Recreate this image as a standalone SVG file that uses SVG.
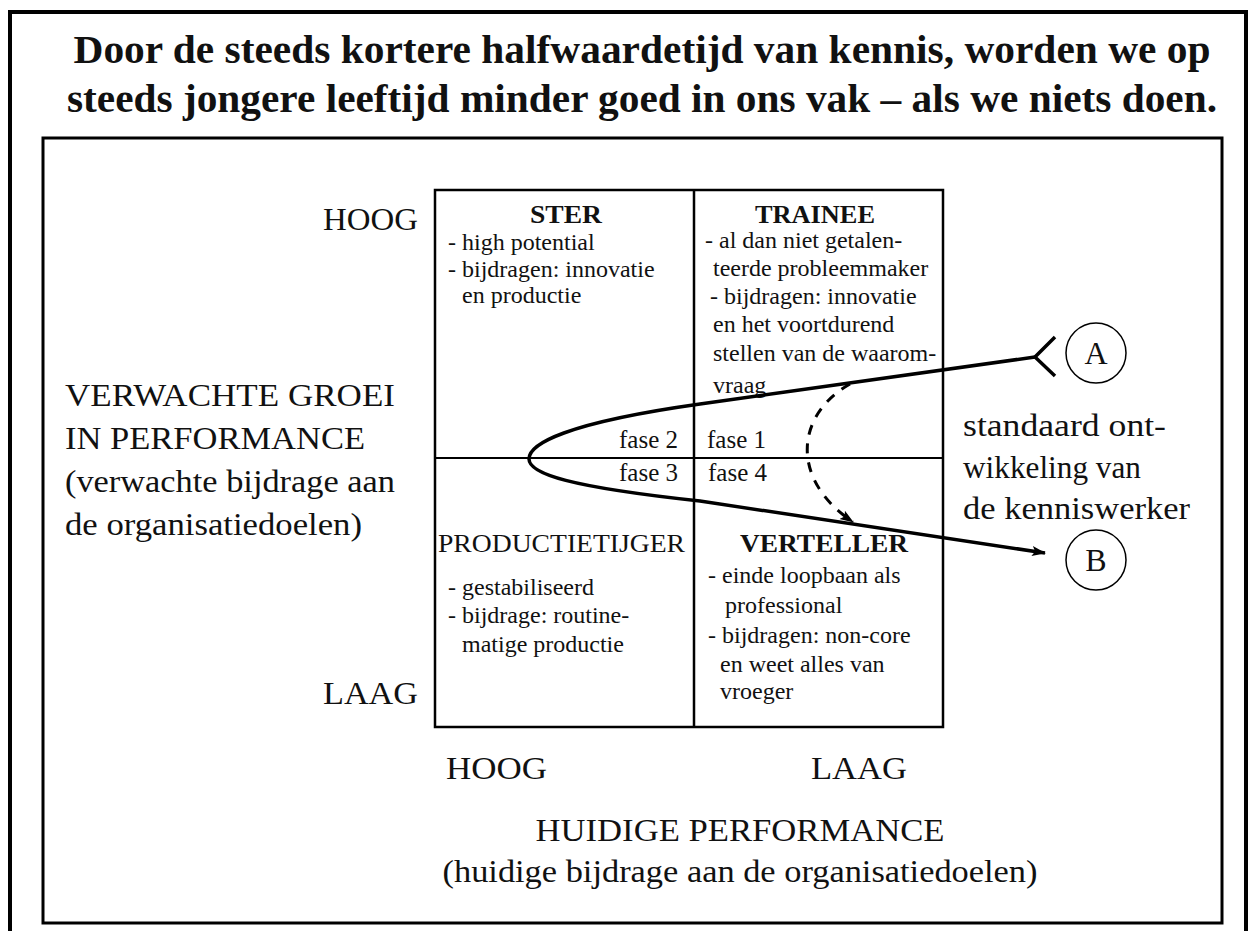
<svg xmlns="http://www.w3.org/2000/svg" width="1249" height="931" viewBox="0 0 1249 931" font-family="Liberation Serif, serif">
<defs>
<style>
.t{font-family:"Liberation Serif","Times New Roman",serif;fill:#111}
.title{font-size:41px;font-weight:bold}
.lab{font-size:32px}
.hd{font-size:26px;font-weight:bold}
.hr{font-size:26px}
.bd{font-size:24px}
.fs{font-size:25px}
.ln{fill:none;stroke:#000}
</style>
<marker id="ah" viewBox="0 0 14 12" refX="13" refY="6" markerWidth="14" markerHeight="12" markerUnits="userSpaceOnUse" orient="auto">
<path d="M0,1 L14,6 L0,11 L3,6 Z" fill="#000"/>
</marker>
</defs>
<rect x="0" y="0" width="1249" height="931" fill="#fff"/>
<g id="frame">
<rect x="10" y="12" width="1236" height="940" class="ln" stroke-width="4"/>
<rect x="43" y="138" width="1179" height="785" class="ln" stroke="#222" stroke-width="3"/>
</g>
<g id="title">
<text class="t title" x="642" y="63" text-anchor="middle" textLength="1137" lengthAdjust="spacingAndGlyphs">Door de steeds kortere halfwaardetijd van kennis, worden we op</text>
<text class="t title" x="642" y="112" text-anchor="middle" textLength="1150" lengthAdjust="spacingAndGlyphs">steeds jongere leeftijd minder goed in ons vak – als we niets doen.</text>
</g>
<g id="grid">
<rect x="435" y="190" width="508" height="537" class="ln" stroke-width="2.5"/>
<line x1="694" y1="190" x2="694" y2="727" class="ln" stroke-width="2.5"/>
<line x1="435" y1="458" x2="943" y2="458" class="ln" stroke-width="1.8"/>
</g>
<g id="axis-y">
<text class="t lab" x="323" y="230" textLength="95" lengthAdjust="spacingAndGlyphs">HOOG</text>
<text class="t lab" x="323" y="704" textLength="95" lengthAdjust="spacingAndGlyphs">LAAG</text>
<text class="t lab" x="65" y="406" textLength="330" lengthAdjust="spacingAndGlyphs">VERWACHTE GROEI</text>
<text class="t lab" x="65" y="449" textLength="300" lengthAdjust="spacingAndGlyphs">IN PERFORMANCE</text>
<text class="t lab" x="65" y="492" textLength="330" lengthAdjust="spacingAndGlyphs">(verwachte bijdrage aan</text>
<text class="t lab" x="65" y="535" textLength="297" lengthAdjust="spacingAndGlyphs">de organisatiedoelen)</text>
</g>
<g id="axis-x">
<text class="t lab" x="446" y="779" textLength="101" lengthAdjust="spacingAndGlyphs">HOOG</text>
<text class="t lab" x="811" y="779" textLength="96" lengthAdjust="spacingAndGlyphs">LAAG</text>
<text class="t lab" x="740" y="841" text-anchor="middle" textLength="409" lengthAdjust="spacingAndGlyphs">HUIDIGE PERFORMANCE</text>
<text class="t lab" x="740" y="882" text-anchor="middle" textLength="595" lengthAdjust="spacingAndGlyphs">(huidige bijdrage aan de organisatiedoelen)</text>
</g>
<g id="ster">
<text class="t hd" x="566" y="223" text-anchor="middle" textLength="72" lengthAdjust="spacingAndGlyphs">STER</text>
<text class="t bd" x="448" y="250">- high potential</text>
<text class="t bd" x="448" y="277">- bijdragen: innovatie</text>
<text class="t bd" x="462" y="303">en productie</text>
<text class="t fs" x="678" y="448" text-anchor="end">fase 2</text>
</g>
<g id="trainee">
<text class="t hd" x="815" y="223" text-anchor="middle" textLength="120" lengthAdjust="spacingAndGlyphs">TRAINEE</text>
<text class="t bd" x="705" y="248">- al dan niet getalen-</text>
<text class="t bd" x="713" y="276">teerde probleemmaker</text>
<text class="t bd" x="710" y="304">- bijdragen: innovatie</text>
<text class="t bd" x="713" y="332">en het voortdurend</text>
<text class="t bd" x="713" y="361">stellen van de waarom-</text>
<text class="t bd" x="713" y="393">vraag</text>
<text class="t fs" x="707" y="448">fase 1</text>
</g>
<g id="productietijger">
<text class="t hr" x="438" y="552" textLength="247" lengthAdjust="spacingAndGlyphs">PRODUCTIETIJGER</text>
<text class="t bd" x="448" y="595">- gestabiliseerd</text>
<text class="t bd" x="448" y="623">- bijdrage: routine-</text>
<text class="t bd" x="462" y="652">matige productie</text>
<text class="t fs" x="678" y="481" text-anchor="end">fase 3</text>
</g>
<g id="verteller">
<text class="t hd" x="824" y="552" text-anchor="middle" textLength="168" lengthAdjust="spacingAndGlyphs">VERTELLER</text>
<text class="t bd" x="708" y="583">- einde loopbaan als</text>
<text class="t bd" x="725" y="613">professional</text>
<text class="t bd" x="708" y="643">- bijdragen: non-core</text>
<text class="t bd" x="720" y="672">en weet alles van</text>
<text class="t bd" x="720" y="699">vroeger</text>
<text class="t fs" x="708" y="481">fase 4</text>
</g>
<g id="node-a">
<circle cx="1096" cy="353" r="30" class="ln" stroke-width="1.5"/>
<text class="t lab" x="1096" y="364" text-anchor="middle" font-size="30">A</text>
</g>
<g id="node-b">
<circle cx="1096" cy="560" r="30" class="ln" stroke-width="1.5"/>
<text class="t lab" x="1096" y="571" text-anchor="middle" font-size="30">B</text>
</g>
<g id="legend">
<text class="t lab" x="963" y="436" textLength="203" lengthAdjust="spacingAndGlyphs">standaard ont-</text>
<text class="t lab" x="963" y="478" textLength="178" lengthAdjust="spacingAndGlyphs">wikkeling van</text>
<text class="t lab" x="963" y="519" textLength="227" lengthAdjust="spacingAndGlyphs">de kenniswerker</text>
</g>
<g id="connectors">
<path d="M1035,357 L700,404 C 565,423 529,444 529,459 C 529,474 570,487 700,501 L1045,553" class="ln" stroke-width="3.5" marker-end="url(#ah)"/>
<polyline points="1055,337 1035,357 1055,376" class="ln" stroke-width="3.5"/>
<path d="M850,384 C 795,415 790,480 853,522" class="ln" stroke-width="3" stroke-dasharray="10,9" marker-end="url(#ah)"/>
</g>
</svg>
